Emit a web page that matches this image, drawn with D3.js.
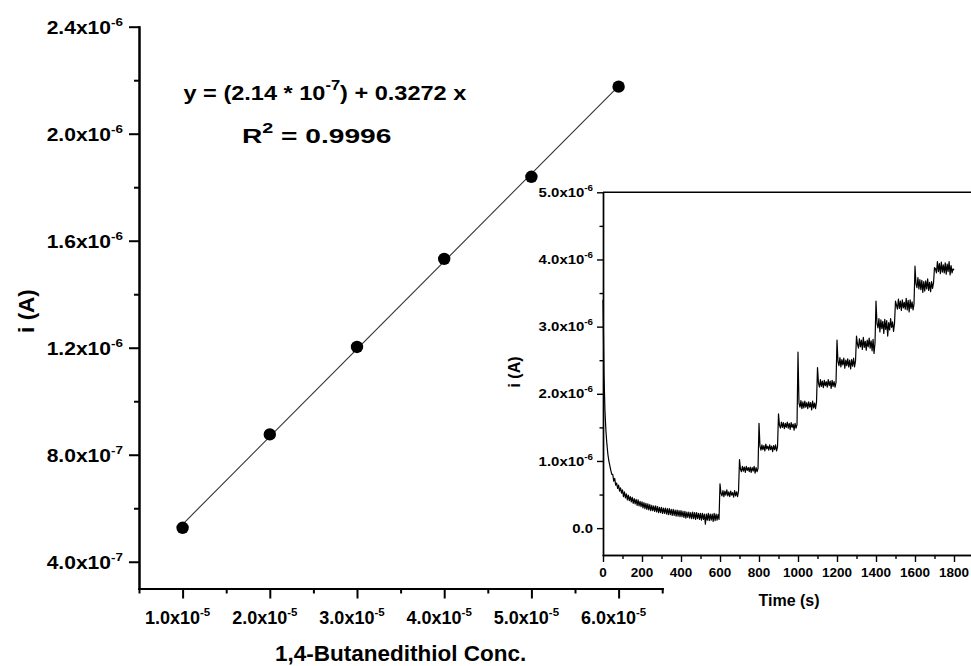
<!DOCTYPE html>
<html>
<head>
<meta charset="utf-8">
<script src="https://cdn.jsdelivr.net/npm/d3@7"></script>
<style>
  html, body { margin: 0; padding: 0; background: #ffffff; }
  svg { display: block; font-family: "Liberation Sans", Arial, sans-serif; font-weight: bold; }
</style>
</head>
<body>
<svg id="chart" width="971" height="666"></svg>
<script>
// ---- Calibration: current vs 1,4-butanedithiol concentration ----
const concentration = [1.0e-5, 2.0e-5, 3.0e-5, 4.0e-5, 5.0e-5, 6.0e-5];
const current = [5.27e-7, 8.76e-7, 1.203e-6, 1.532e-6, 1.839e-6, 2.176e-6];

const concTicks = [1.0e-5, 2.0e-5, 3.0e-5, 4.0e-5, 5.0e-5, 6.0e-5];
const concTickLabels = [["1.0x10", "-5"], ["2.0x10", "-5"], ["3.0x10", "-5"], ["4.0x10", "-5"], ["5.0x10", "-5"], ["6.0x10", "-5"]];
const concMinorTicks = [0.5e-5, 1.5e-5, 2.5e-5, 3.5e-5, 4.5e-5, 5.5e-5, 6.5e-5];

const currentTicks = [4.0e-7, 8.0e-7, 1.2e-6, 1.6e-6, 2.0e-6, 2.4e-6];
const currentTickLabels = [["4.0x10", "-7"], ["8.0x10", "-7"], ["1.2x10", "-6"], ["1.6x10", "-6"], ["2.0x10", "-6"], ["2.4x10", "-6"]];
const currentMinorTicks = [6.0e-7, 1.0e-6, 1.4e-6, 1.8e-6, 2.2e-6];

const equationParts = ["y = (2.14 * 10", "-7", ") + 0.3272 x"];
const r2Parts = ["R", "2", " = 0.9996"];

// ---- Amperometric i-t trace (current in µA, one reading every 5 s) ----
const traceStep = 5;
const traceCurrent = [
  3.40, 2.30, 1.75, 1.45, 1.25, 1.10, 1.00, 0.93, 0.86, 0.80,
  0.80, 0.70, 0.74, 0.64, 0.67, 0.59, 0.64, 0.55, 0.60, 0.52,
  0.57, 0.47, 0.54, 0.45, 0.51, 0.42, 0.49, 0.41, 0.47, 0.39,
  0.46, 0.37, 0.44, 0.36, 0.43, 0.34, 0.42, 0.33, 0.40, 0.32,
  0.39, 0.30, 0.38, 0.29, 0.37, 0.28, 0.36, 0.27, 0.35, 0.26,
  0.34, 0.26, 0.33, 0.25, 0.33, 0.24, 0.32, 0.23, 0.31, 0.23,
  0.31, 0.22, 0.30, 0.22, 0.30, 0.21, 0.29, 0.20, 0.29, 0.20,
  0.28, 0.19, 0.28, 0.19, 0.27, 0.18, 0.27, 0.18, 0.26, 0.17,
  0.26, 0.17, 0.25, 0.16, 0.25, 0.15, 0.24, 0.16, 0.24, 0.15,
  0.23, 0.14, 0.24, 0.14, 0.23, 0.13, 0.23, 0.14, 0.22, 0.13,
  0.22, 0.12, 0.22, 0.13, 0.21, 0.06, 0.21, 0.12, 0.22, 0.11,
  0.21, 0.12, 0.21, 0.10, 0.22, 0.11, 0.21, 0.12, 0.20, 0.13,
  0.66, 0.52, 0.48, 0.56, 0.47, 0.55, 0.49, 0.57, 0.48, 0.54,
  0.47, 0.55, 0.49, 0.53, 0.46, 0.56, 0.48, 0.54, 0.47, 0.55,
  1.02, 0.88, 0.84, 0.92, 0.85, 0.91, 0.83, 0.92, 0.86, 0.90,
  0.84, 0.91, 0.83, 0.90, 0.85, 0.92, 0.82, 0.90, 0.84, 0.89,
  1.56, 1.22, 1.16, 1.24, 1.17, 1.23, 1.15, 1.25, 1.18, 1.22,
  1.16, 1.24, 1.17, 1.22, 1.14, 1.23, 1.17, 1.24, 1.15, 1.21,
  1.70, 1.53, 1.49, 1.58, 1.50, 1.57, 1.48, 1.56, 1.50, 1.58,
  1.49, 1.56, 1.47, 1.57, 1.50, 1.55, 1.46, 1.56, 1.49, 1.54,
  2.62, 1.86, 1.80, 1.90, 1.78, 1.88, 1.79, 1.89, 1.80, 1.87,
  1.78, 1.88, 1.80, 1.87, 1.76, 1.89, 1.79, 1.86, 1.78, 1.88,
  2.39, 2.16, 2.10, 2.21, 2.11, 2.19, 2.09, 2.20, 2.12, 2.18,
  2.10, 2.21, 2.12, 2.19, 2.08, 2.20, 2.11, 2.18, 2.10, 2.17,
  2.80, 2.48, 2.42, 2.54, 2.40, 2.51, 2.43, 2.53, 2.38, 2.50,
  2.42, 2.52, 2.40, 2.50, 2.37, 2.51, 2.41, 2.53, 2.40, 2.49,
  2.86, 2.74, 2.68, 2.82, 2.70, 2.80, 2.66, 2.84, 2.69, 2.78,
  2.65, 2.80, 2.70, 2.83, 2.68, 2.79, 2.64, 2.81, 2.60, 2.76,
  3.38, 3.05, 2.98, 3.12, 2.92, 3.10, 2.97, 3.08, 2.90, 3.11,
  2.96, 3.09, 2.86, 3.06, 2.95, 3.12, 2.99, 3.07, 2.93, 3.05,
  3.38, 3.32, 3.26, 3.41, 3.27, 3.38, 3.24, 3.40, 3.28, 3.36,
  3.26, 3.42, 3.25, 3.39, 3.22, 3.40, 3.27, 3.37, 3.25, 3.34,
  3.90, 3.64, 3.58, 3.73, 3.56, 3.70, 3.55, 3.69, 3.51, 3.67,
  3.53, 3.68, 3.56, 3.71, 3.54, 3.66, 3.52, 3.67, 3.57, 3.65,
  3.88, 3.86, 3.80, 3.97, 3.82, 3.94, 3.79, 3.96, 3.81, 3.92,
  3.80, 3.95, 3.78, 3.93, 3.82, 3.97, 3.77, 3.91, 3.80, 3.86,
  3.84
];

const timeTicks = [0, 200, 400, 600, 800, 1000, 1200, 1400, 1600, 1800];
const timeMinorTicks = [100, 300, 500, 700, 900, 1100, 1300, 1500, 1700];
const insetTicks = [0, 1, 2, 3, 4, 5];
const insetTickLabels = [["0.0", ""], ["1.0x10", "-6"], ["2.0x10", "-6"], ["3.0x10", "-6"], ["4.0x10", "-6"], ["5.0x10", "-6"]];
const insetMinorTicks = [0.5, 1.5, 2.5, 3.5, 4.5];

const svg = d3.select("#chart");

// ================= Main calibration plot =================
const main = { left: 139, right: 662.2, top: 26.7, bottom: 588.5 };
const x = d3.scaleLinear().domain([0.5e-5, 6.5e-5]).range([main.left, main.right]);
const y = d3.scaleLinear().domain([3.0e-7, 2.4e-6]).range([main.bottom, main.top]);

function styleAxis(g, width) {
  g.selectAll("path, line").attr("stroke", "#000").attr("stroke-width", width);
  g.select(".domain").attr("stroke-linecap", "square");
}

// Text made of a base run, an optional raised exponent and an optional tail,
// drawn inside a group so it can be widened horizontally.
function richText(parent, parts, size, supSize, raise) {
  const g = parent.append("g");
  const t = g.append("text").attr("font-size", size).attr("fill", "#000");
  t.append("tspan").text(parts[0]);
  if (parts[1]) t.append("tspan").text(parts[1]).attr("font-size", supSize).attr("dy", -raise);
  if (parts[2]) t.append("tspan").text(parts[2]).attr("dy", raise);
  return { g, t };
}
// place with a fixed horizontal stretch; anchor: "start" | "middle" | "end"
function placeScaled(item, anchor, px, py, sx) {
  item.t.attr("text-anchor", anchor);
  item.g.attr("transform", `translate(${px},${py}) scale(${sx},1)`);
}
// stretch so the text spans [left, right]
function placeSpan(item, left, right, py) {
  item.t.attr("text-anchor", "start");
  const bb = item.t.node().getBBox();
  const sx = (right - left) / bb.width;
  item.g.attr("transform", `translate(${left - bb.x * sx},${py}) scale(${sx},1)`);
}

// y axis: major + minor ticks
svg.append("g").attr("transform", `translate(${main.left},0)`)
  .call(d3.axisLeft(y).tickValues(currentMinorTicks).tickSize(5).tickSizeOuter(0).tickFormat(""))
  .call(g => styleAxis(g, 2));
svg.append("g").attr("transform", `translate(${main.left},0)`)
  .call(d3.axisLeft(y).tickValues(currentTicks).tickSize(10).tickSizeOuter(0).tickFormat(""))
  .call(g => styleAxis(g, 2));

// x axis: major + minor ticks
svg.append("g").attr("transform", `translate(0,${main.bottom})`)
  .call(d3.axisBottom(x).tickValues(concMinorTicks).tickSize(5).tickSizeOuter(0).tickFormat(""))
  .call(g => styleAxis(g, 2));
svg.append("g").attr("transform", `translate(0,${main.bottom})`)
  .call(d3.axisBottom(x).tickValues(concTicks).tickSize(10).tickSizeOuter(0).tickFormat(""))
  .call(g => styleAxis(g, 2));

currentTicks.forEach((v, i) => {
  const item = richText(svg, currentTickLabels[i], 18, 11.5, 8);
  placeScaled(item, "end", 123, y(v) + 7, 1.17);
});

concTicks.forEach((v, i) => {
  const item = richText(svg, concTickLabels[i], 18, 11.5, 8);
  placeScaled(item, "middle", x(v) - 5, 624, 1.0);
});

// axis titles
svg.append("text").attr("x", (main.left + main.right) / 2).attr("y", 661)
  .attr("text-anchor", "middle").attr("font-size", 22.5).text("1,4-Butanedithiol Conc.");
svg.append("text").attr("transform", `translate(34,311) rotate(-90)`)
  .attr("text-anchor", "middle").attr("font-size", 22.5).text("i (A)");

// least-squares line through the calibration points
const mx = d3.mean(concentration), my = d3.mean(current);
const slope = d3.sum(concentration, (c, i) => (c - mx) * (current[i] - my)) /
              d3.sum(concentration, c => (c - mx) * (c - mx));
const intercept = my - slope * mx;
const xExtent = d3.extent(concentration);
svg.append("line")
  .attr("x1", x(xExtent[0])).attr("y1", y(intercept + slope * xExtent[0]))
  .attr("x2", x(xExtent[1])).attr("y2", y(intercept + slope * xExtent[1]))
  .attr("stroke", "#333").attr("stroke-width", 1.1);

svg.append("g").selectAll("circle").data(concentration).join("circle")
  .attr("cx", d => x(d)).attr("cy", (d, i) => y(current[i]))
  .attr("r", 6.2).attr("fill", "#000");

// fit equation and R²
placeSpan(richText(svg, equationParts, 20, 14, 10), 183.5, 466.5, 99.5);
placeSpan(richText(svg, r2Parts, 20, 14, 10), 242, 391.5, 142.5);

// ================= Inset: i-t trace =================
const inset = { left: 603, right: 973.5, top: 192.3, bottom: 555 };
const xi = d3.scaleLinear().domain([0, 1900]).range([inset.left, inset.right]);
const yi = d3.scaleLinear().domain([-0.4, 5.0]).range([inset.bottom, inset.top]);

svg.append("rect").attr("x", inset.left).attr("y", inset.top)
  .attr("width", inset.right - inset.left).attr("height", inset.bottom - inset.top)
  .attr("fill", "#fff");

svg.append("g").attr("transform", `translate(${inset.left},0)`)
  .call(d3.axisLeft(yi).tickValues(insetMinorTicks).tickSize(3.5).tickSizeOuter(0).tickFormat(""))
  .call(g => styleAxis(g, 1.4));
svg.append("g").attr("transform", `translate(${inset.left},0)`)
  .call(d3.axisLeft(yi).tickValues(insetTicks).tickSize(6).tickSizeOuter(0).tickFormat(""))
  .call(g => styleAxis(g, 1.4));
svg.append("g").attr("transform", `translate(0,${inset.bottom})`)
  .call(d3.axisBottom(xi).tickValues(timeMinorTicks).tickSize(4).tickSizeOuter(0).tickFormat(""))
  .call(g => styleAxis(g, 1.4));
svg.append("g").attr("transform", `translate(0,${inset.bottom})`)
  .call(d3.axisBottom(xi).tickValues(timeTicks).tickSize(7).tickSizeOuter(0).tickFormat(""))
  .call(g => styleAxis(g, 1.4));
// top frame line
svg.append("line").attr("x1", inset.left).attr("x2", inset.right)
  .attr("y1", inset.top).attr("y2", inset.top)
  .attr("stroke", "#000").attr("stroke-width", 1.4);

insetTicks.forEach((v, i) => {
  const item = richText(svg, insetTickLabels[i], 13, 8.5, 6);
  placeScaled(item, "end", 593, yi(v) + 4.6, 1.15);
});
timeTicks.forEach(v => {
  svg.append("text").attr("x", xi(v)).attr("y", 577)
    .attr("text-anchor", "middle").attr("font-size", 13.5).text(v);
});
svg.append("text").attr("x", 789).attr("y", 606)
  .attr("text-anchor", "middle").attr("font-size", 16).text("Time (s)");
svg.append("text").attr("transform", `translate(520,372) rotate(-90)`)
  .attr("text-anchor", "middle").attr("font-size", 16).text("i (A)");

const trace = d3.line()
  .x((d, i) => xi(i * traceStep))
  .y(d => yi(d));
svg.append("path").datum(traceCurrent)
  .attr("d", trace).attr("fill", "none")
  .attr("stroke", "#000").attr("stroke-width", 1.2).attr("stroke-linejoin", "round");
</script>
</body>
</html>
